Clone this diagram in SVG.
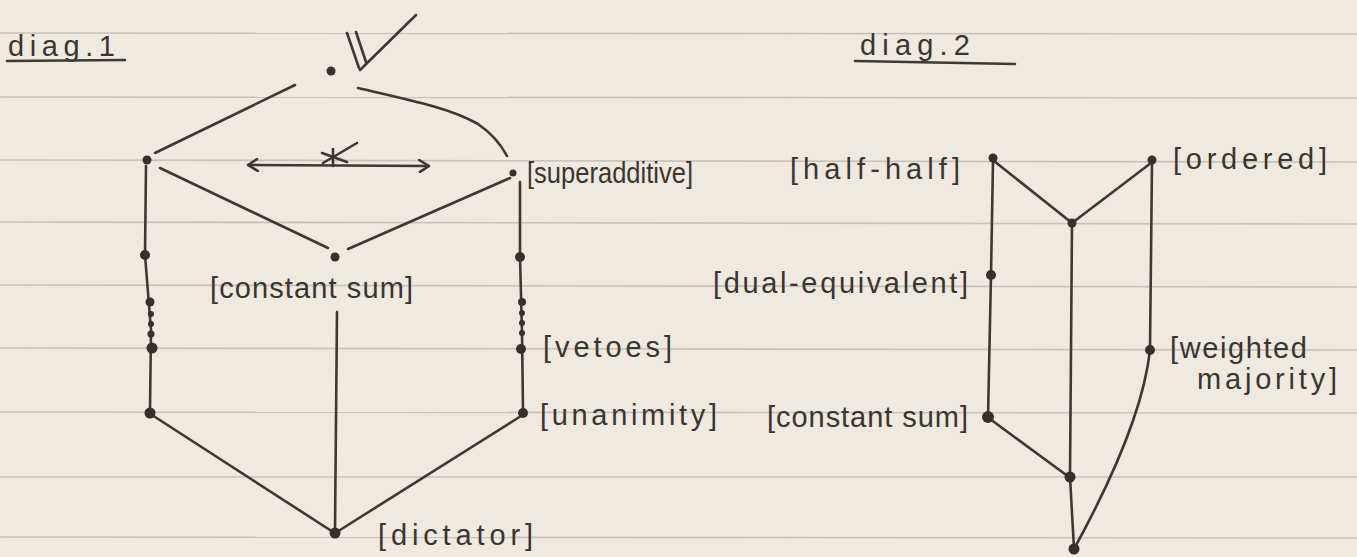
<svg xmlns="http://www.w3.org/2000/svg" width="1357" height="557" viewBox="0 0 1357 557">
  <style>
    .paper { fill: #efe9df; }
    .rule { stroke: #c7c3bb; stroke-width: 1.6; fill: none; }
    .edge { stroke: #3d3833; stroke-width: 2.6; fill: none; stroke-linecap: round; stroke-linejoin: round; }
    .dot { fill: #35302b; }
    .lbl { font-family: "Liberation Sans", Arial, sans-serif; font-size: 29px; fill: #3a3530; }
  </style>
  <defs>
    <marker id="chev" viewBox="0 0 12 14" refX="11" refY="7" markerWidth="12" markerHeight="14" markerUnits="userSpaceOnUse" orient="auto-start-reverse">
      <path d="M1,1 L11,7 L2,13" fill="none" stroke="#3d3833" stroke-width="2.6" stroke-linecap="round" stroke-linejoin="round"/>
    </marker>
  </defs>

  <rect class="paper" x="0" y="0" width="1357" height="557"/>
  <g id="ruling">
    <line class="rule" x1="0" y1="33" x2="1357" y2="34"/>
    <line class="rule" x1="0" y1="97" x2="1357" y2="98"/>
    <line class="rule" x1="0" y1="160" x2="1357" y2="162"/>
    <line class="rule" x1="0" y1="222" x2="1357" y2="224"/>
    <line class="rule" x1="0" y1="285" x2="1357" y2="287"/>
    <line class="rule" x1="0" y1="348" x2="1357" y2="350"/>
    <line class="rule" x1="0" y1="412" x2="1357" y2="413"/>
    <line class="rule" x1="0" y1="477" x2="1357" y2="477"/>
    <line class="rule" x1="0" y1="537" x2="1357" y2="538"/>
  </g>

  <!-- titles -->
  <g id="title-diag1">
    <text class="lbl" x="8" y="56" textLength="107" lengthAdjust="spacing">diag.1</text>
    <line class="edge" x1="7" y1="61" x2="125" y2="60"/>
  </g>
  <g id="title-diag2">
    <text class="lbl" x="860" y="55" textLength="110" lengthAdjust="spacing">diag.2</text>
    <line class="edge" x1="855" y1="61" x2="1015" y2="64"/>
  </g>

  <!-- connectors -->
  <g id="connectors">
    <!-- diag 1 -->
    <line class="edge" x1="295" y1="85" x2="155" y2="153"/>
    <path class="edge" d="M358,88 C410,100 450,108 478,124 Q497,137 507,156"/>
    <line class="edge" x1="160" y1="168" x2="328" y2="248"/>
    <line class="edge" x1="510" y1="178" x2="348" y2="249"/>
    <path class="edge" d="M146,166 L145,255 L151,330 L150,410"/>
    <path class="edge" d="M520,182 L520,257 L522,333 L523,410"/>
    <line class="edge" x1="337" y1="312" x2="335" y2="530"/>
    <line class="edge" x1="152" y1="415" x2="333" y2="532"/>
    <line class="edge" x1="521" y1="416" x2="340" y2="530"/>
    <line class="edge" x1="248" y1="165" x2="429" y2="166" marker-start="url(#chev)" marker-end="url(#chev)"/>
    <!-- diag 2 -->
    <line class="edge" x1="994" y1="161" x2="1072" y2="223"/>
    <line class="edge" x1="1151" y1="163" x2="1072" y2="223"/>
    <path class="edge" d="M993,161 L991,275 L988,417"/>
    <path class="edge" d="M1072,223 L1070,477 L1074,549"/>
    <path class="edge" d="M1152,162 L1150,350 Q1142,425 1074,549"/>
    <line class="edge" x1="990" y1="419" x2="1069" y2="477"/>
  </g>

  <!-- diag 1 nodes -->
  <g id="d1-top">
    <circle class="dot" cx="331" cy="71" r="4.5"/>
    <g id="d1-top-mark">
      <line class="edge" x1="347" y1="33" x2="359" y2="68"/>
      <line class="edge" x1="356" y1="32" x2="366" y2="62"/>
      <line class="edge" x1="360" y1="70" x2="416" y2="15"/>
    </g>
  </g>
  <g id="d1-left">
    <circle class="dot" cx="147" cy="160" r="4.5"/>
  </g>
  <g id="d1-star">
    <line class="edge" x1="333" y1="149" x2="333" y2="166"/>
    <line class="edge" x1="323" y1="163" x2="357" y2="143"/>
    <line class="edge" x1="322" y1="153" x2="347" y2="162"/>
  </g>
  <g id="d1-superadditive">
    <circle class="dot" cx="513" cy="173" r="3.5"/>
    <text class="lbl" x="527" y="183" textLength="166" lengthAdjust="spacingAndGlyphs">[superadditive]</text>
  </g>
  <g id="d1-constant-sum">
    <circle class="dot" cx="335" cy="257" r="4.5"/>
    <text class="lbl" x="210" y="298" textLength="203" lengthAdjust="spacing">[constant sum]</text>
  </g>
  <g id="d1-left-chain">
    <circle class="dot" cx="145" cy="255" r="5"/>
    <circle class="dot" cx="150" cy="302" r="4.5"/>
    <circle class="dot" cx="151" cy="314" r="3"/>
    <circle class="dot" cx="151" cy="324" r="3"/>
    <circle class="dot" cx="151" cy="334" r="3.5"/>
    <circle class="dot" cx="152" cy="348" r="5.5"/>
  </g>
  <g id="d1-right-chain">
    <circle class="dot" cx="520" cy="257" r="5"/>
    <circle class="dot" cx="522" cy="302" r="4"/>
    <circle class="dot" cx="522" cy="313" r="3"/>
    <circle class="dot" cx="522" cy="323" r="3"/>
    <circle class="dot" cx="522" cy="333" r="3"/>
  </g>
  <g id="d1-vetoes">
    <circle class="dot" cx="521" cy="349" r="5"/>
    <text class="lbl" x="543" y="357" textLength="129" lengthAdjust="spacing">[vetoes]</text>
  </g>
  <g id="d1-bottom-left">
    <circle class="dot" cx="150" cy="413" r="5.5"/>
  </g>
  <g id="d1-unanimity">
    <circle class="dot" cx="523" cy="413" r="5"/>
    <text class="lbl" x="540" y="425" textLength="177" lengthAdjust="spacing">[unanimity]</text>
  </g>
  <g id="d1-dictator">
    <circle class="dot" cx="335" cy="533" r="5.5"/>
    <text class="lbl" x="378" y="545" textLength="155" lengthAdjust="spacing">[dictator]</text>
  </g>

  <!-- diag 2 nodes -->
  <g id="d2-half-half">
    <circle class="dot" cx="993" cy="158" r="4.5"/>
    <text class="lbl" x="790" y="179" textLength="170" lengthAdjust="spacing">[half-half]</text>
  </g>
  <g id="d2-ordered">
    <circle class="dot" cx="1152" cy="160" r="4.5"/>
    <text class="lbl" x="1173" y="169" textLength="154" lengthAdjust="spacing">[ordered]</text>
  </g>
  <g id="d2-top-mid">
    <circle class="dot" cx="1072" cy="223" r="4.5"/>
  </g>
  <g id="d2-dual-equivalent">
    <circle class="dot" cx="991" cy="275" r="5"/>
    <text class="lbl" x="713" y="293" textLength="255" lengthAdjust="spacing">[dual-equivalent]</text>
  </g>
  <g id="d2-weighted-majority">
    <circle class="dot" cx="1150" cy="350" r="5"/>
    <text class="lbl" x="1170" y="358" textLength="137" lengthAdjust="spacing">[weighted</text>
    <text class="lbl" x="1197" y="389" textLength="140" lengthAdjust="spacing">majority]</text>
  </g>
  <g id="d2-constant-sum">
    <circle class="dot" cx="988" cy="417" r="6"/>
    <text class="lbl" x="767" y="427" textLength="201" lengthAdjust="spacing">[constant sum]</text>
  </g>
  <g id="d2-low-mid">
    <circle class="dot" cx="1070" cy="477" r="5.5"/>
  </g>
  <g id="d2-bottom">
    <circle class="dot" cx="1074" cy="549" r="5.5"/>
  </g>
</svg>
